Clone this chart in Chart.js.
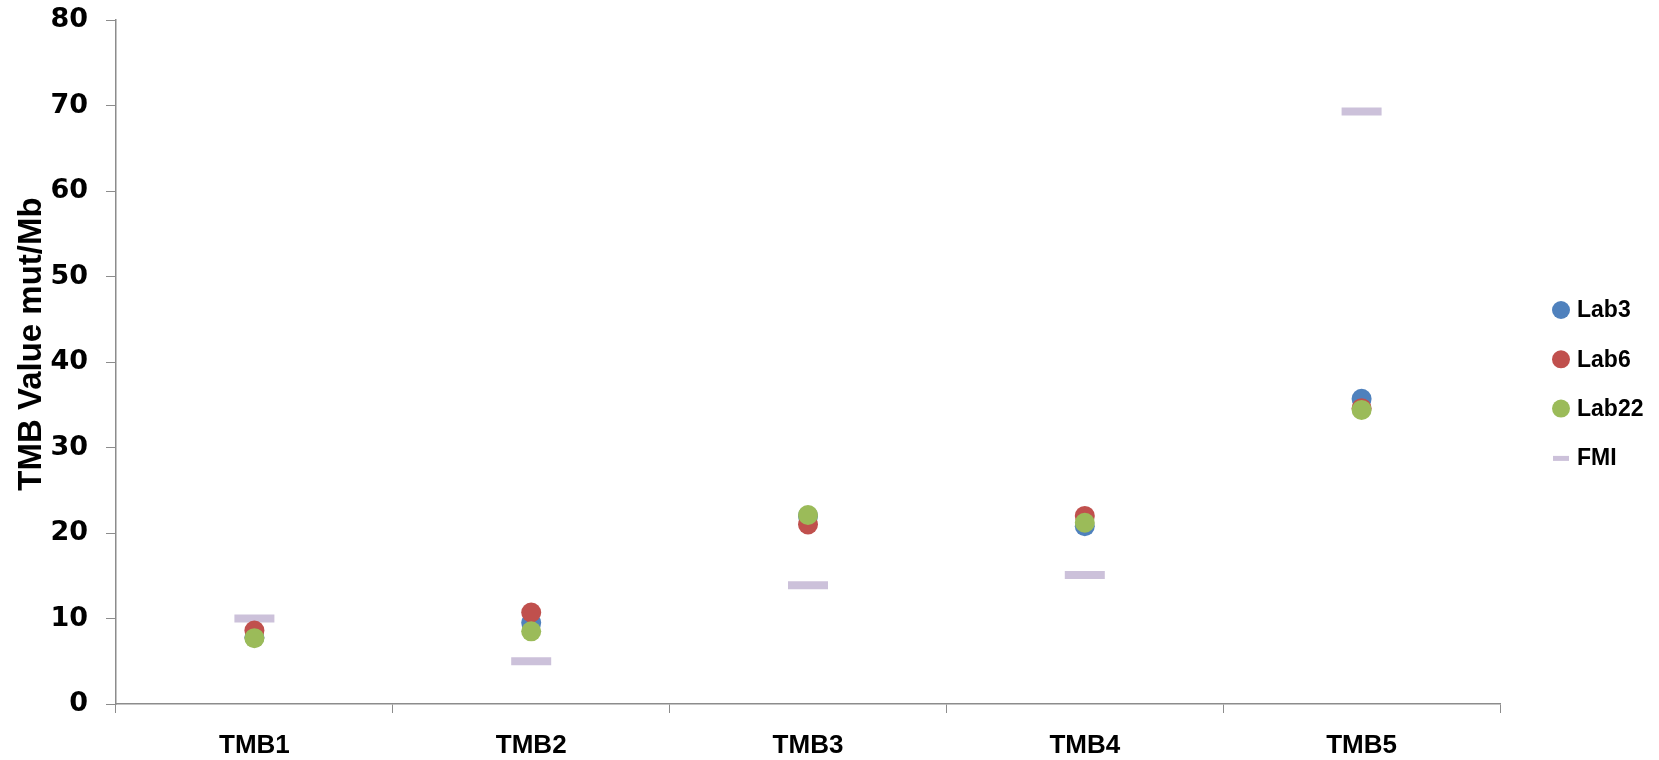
<!DOCTYPE html>
<html>
<head>
<meta charset="utf-8">
<script src="https://cdn.jsdelivr.net/npm/chart.js@4.4.1/dist/chart.umd.min.js"></script>
<style>
  html, body { margin: 0; padding: 0; background: #ffffff; }
  #wrap { width: 1659px; height: 760px; position: relative; }
</style>
</head>
<body>
<div id="wrap"><canvas id="c" width="1659" height="760"></canvas></div>
<script>
const categories = ['TMB1', 'TMB2', 'TMB3', 'TMB4', 'TMB5'];
const lab3Values = [7.8, 9.5, 22.0, 20.8, 35.7];
const lab6Values = [8.6, 10.7, 21.0, 22.0, 34.6];
const lab22Values = [7.7, 8.5, 22.1, 21.2, 34.4];
const fmiValues = [10.0, 5.0, 13.9, 15.1, 69.3];
const yMin = 0, yMax = 80, yStep = 10;
const yTitle = 'TMB Value mut/Mb';

const BLUE = '#4f81bd', RED = '#c0504d', GREEN = '#9bbb59', LAV = '#ccc1da';
const AXIS = '#8c8c8c';

const legendPlugin = {
  id: 'customLegend',
  afterDraw(chart) {
    const ctx = chart.ctx;
    ctx.save();
    // y-axis title
    ctx.font = 'bold 33px "Liberation Sans"';
    ctx.fillStyle = '#000';
    ctx.textAlign = 'center';
    ctx.textBaseline = 'alphabetic';
    ctx.translate(41, 344);
    ctx.rotate(-Math.PI / 2);
    ctx.fillText(yTitle, 0, 0);
    ctx.restore();

    ctx.save();
    ctx.font = 'bold 23px "Liberation Sans"';
    ctx.textBaseline = 'middle';
    ctx.textAlign = 'left';
    chart.data.datasets.forEach((ds, i) => {
      const y = 310 + i * 49.3;
      const x = 1561;
      if (ds.pointStyle === 'line') {
        ctx.fillStyle = ds.borderColor;
        ctx.fillRect(x - 8, y - 2, 16, 5);
      } else {
        ctx.fillStyle = ds.backgroundColor;
        ctx.beginPath();
        ctx.arc(x, y, 9, 0, Math.PI * 2);
        ctx.fill();
      }
      ctx.fillStyle = '#000';
      ctx.fillText(ds.label, 1577, y + 1);
    });
    ctx.restore();
  }
};

function pt(label, data, color, order) {
  return {
    label, data, showLine: false,
    backgroundColor: color, borderColor: color,
    pointBackgroundColor: color, pointBorderWidth: 0,
    pointRadius: 10, pointHoverRadius: 10, order
  };
}

new Chart(document.getElementById('c'), {
  type: 'line',
  data: {
    labels: categories,
    datasets: [
      pt('Lab3', lab3Values, BLUE, 3),
      pt('Lab6', lab6Values, RED, 2),
      pt('Lab22', lab22Values, GREEN, 1),
      {
        label: 'FMI', data: fmiValues, showLine: false,
        pointStyle: 'line', pointRadius: 20, pointHoverRadius: 20,
        pointBorderWidth: 8, pointHoverBorderWidth: 8,
        borderColor: LAV, backgroundColor: LAV, pointBorderColor: LAV,
        order: 4
      }
    ]
  },
  options: {
    responsive: false,
    animation: false,
    events: [],
    layout: { autoPadding: false, padding: { top: 20, right: 159, bottom: 0, left: 0 } },
    plugins: { legend: { display: false }, tooltip: { enabled: false } },
    scales: {
      x: {
        type: 'category',
        offset: true,
        grid: { display: true, drawOnChartArea: false, drawTicks: true, tickLength: 9, offset: true, color: AXIS, lineWidth: 1 },
        border: { display: true, color: AXIS, width: 1.5 },
        ticks: { color: '#000', padding: 17, font: { family: '"Liberation Sans"', weight: 'bold', size: 26 } },
        afterFit(scale) { scale.height = 56; scale.paddingLeft = 0; scale.paddingRight = 0; }
      },
      y: {
        min: yMin, max: yMax,
        grid: { display: true, drawOnChartArea: false, drawTicks: true, tickLength: 10, color: AXIS, lineWidth: 1 },
        border: { display: true, color: AXIS, width: 1.5 },
        ticks: { stepSize: yStep, color: '#000', padding: 18, font: { family: '"DejaVu Sans"', weight: 'bold', size: 27 } },
        title: { display: false },
        afterFit(scale) { scale.width = 116; scale.paddingTop = 0; scale.paddingBottom = 0; }
      }
    }
  },
  plugins: [legendPlugin]
});
</script>
</body>
</html>
